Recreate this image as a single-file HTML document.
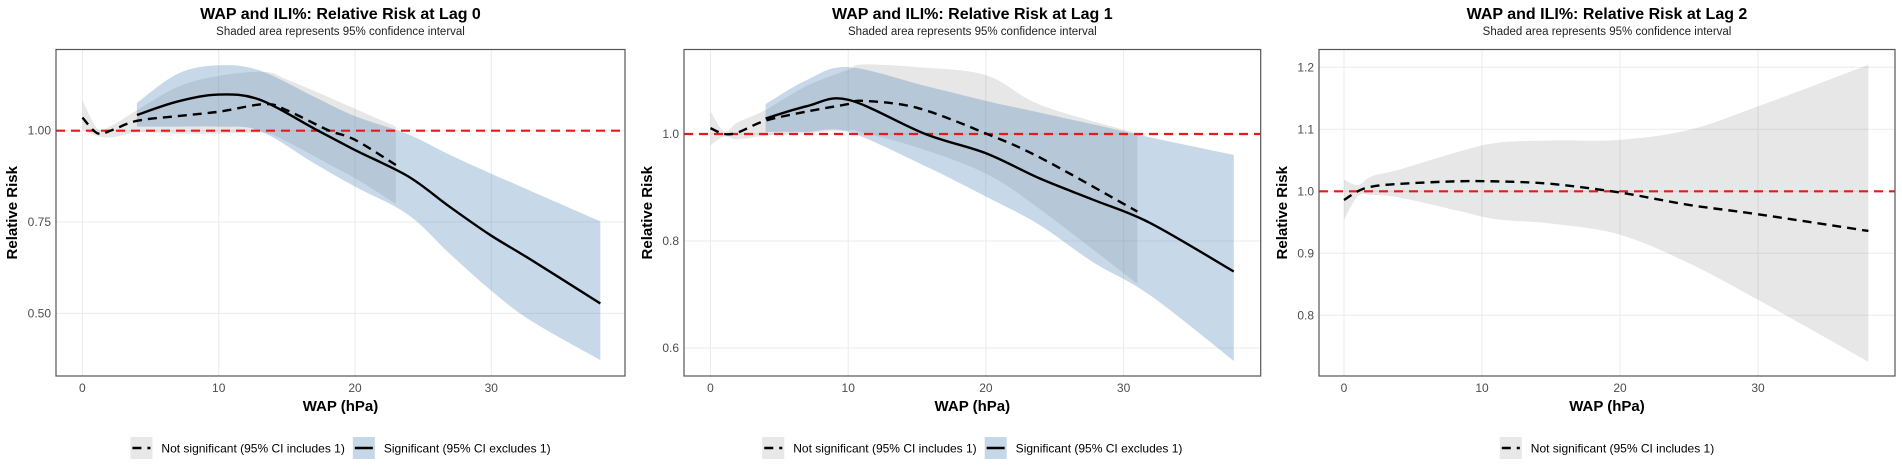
<!DOCTYPE html>
<html><head><meta charset="utf-8"><style>
body{margin:0;background:#fff;}
svg{display:block;font-family:"Liberation Sans",Arial,sans-serif;}
</style></head><body>
<svg id="chart" width="1902" height="468" viewBox="0 0 1902 468"></svg>
<script>
// ---- Data ----
const xTicks = [0, 10, 20, 30];
const p1YTicks = [0.50, 0.75, 1.00];
const p1YLabels = ["0.50", "0.75", "1.00"];
const p2YTicks = [0.6, 0.8, 1.0];
const p2YLabels = ["0.6", "0.8", "1.0"];
const p3YTicks = [0.8, 0.9, 1.0, 1.1, 1.2];
const p3YLabels = ["0.8", "0.9", "1.0", "1.1", "1.2"];

// Lag 0
const p1NsX = [0, 1.1, 2.2, 4, 7, 10, 13.4, 15, 18, 20, 23];
const p1NsY = [1.036, 0.993, 1.002, 1.027, 1.040, 1.052, 1.073, 1.056, 1.002, 0.975, 0.906];
const p1NsUp = [1.084, 1.006, 1.015, 1.056, 1.120, 1.150, 1.161, 1.140, 1.093, 1.060, 1.011];
const p1NsLo = [1.002, 0.985, 0.982, 0.995, 0.992, 0.992, 0.993, 0.970, 0.910, 0.870, 0.800];
const p1SX = [4, 7, 10, 13, 17, 20, 23.9, 26.9, 29.9, 32.9, 38];
const p1SY = [1.043, 1.080, 1.099, 1.085, 1.006, 0.947, 0.875, 0.793, 0.715, 0.647, 0.527];
const p1SUp = [1.076, 1.156, 1.179, 1.165, 1.093, 1.040, 0.990, 0.935, 0.884, 0.835, 0.752];
const p1SLo = [1.011, 1.011, 1.011, 1.000, 0.911, 0.847, 0.770, 0.665, 0.565, 0.480, 0.372];

// Lag 1
const p2NsX = [0, 1, 2, 4, 7, 10, 11, 15, 20, 24, 31];
const p2NsY = [1.011, 1.0, 1.003, 1.025, 1.042, 1.056, 1.062, 1.049, 1.001, 0.955, 0.855];
const p2NsUp = [1.042, 1.005, 1.022, 1.045, 1.090, 1.120, 1.130, 1.125, 1.110, 1.054, 1.001];
const p2NsLo = [0.979, 0.995, 0.990, 0.997, 1.002, 1.007, 1.003, 0.975, 0.926, 0.858, 0.720];
const p2SX = [4, 7, 10, 15.6, 20, 23.9, 27.8, 31.9, 38];
const p2SY = [1.029, 1.052, 1.064, 1.0, 0.964, 0.917, 0.877, 0.834, 0.743];
const p2SUp = [1.056, 1.101, 1.125, 1.090, 1.062, 1.040, 1.018, 0.994, 0.961];
const p2SLo = [1.004, 1.004, 1.004, 0.940, 0.883, 0.830, 0.760, 0.699, 0.576];

// Lag 2
const p3NsX = [0, 1, 2, 4, 8, 11, 15, 20, 25, 30, 38];
const p3NsY = [0.986, 1.0, 1.0075, 1.012, 1.016, 1.016, 1.012, 0.998, 0.978, 0.963, 0.936];
const p3NsUp = [1.019, 1.010, 1.024, 1.035, 1.062, 1.078, 1.082, 1.083, 1.099, 1.137, 1.204];
const p3NsLo = [0.954, 0.992, 0.994, 0.990, 0.970, 0.955, 0.948, 0.930, 0.884, 0.825, 0.725];

const svg = document.getElementById('chart');
const NS = 'http://www.w3.org/2000/svg';
function mk(tag, attrs, parent){
  const e = document.createElementNS(NS, tag);
  for (const k in attrs) e.setAttribute(k, attrs[k]);
  (parent || svg).appendChild(e);
  return e;
}
// smooth path through points (Catmull-Rom -> Bezier)
function smooth(pts, start){
  let d = start ? 'M' + pts[0][0] + ',' + pts[0][1] : 'L' + pts[0][0] + ',' + pts[0][1];
  for (let i = 0; i < pts.length - 1; i++){
    const p0 = pts[i - 1] || pts[i], p1 = pts[i], p2 = pts[i + 1], p3 = pts[i + 2] || p2;
    const c1x = p1[0] + (p2[0] - p0[0]) / 6, c1y = p1[1] + (p2[1] - p0[1]) / 6;
    const c2x = p2[0] - (p3[0] - p1[0]) / 6, c2y = p2[1] - (p3[1] - p1[1]) / 6;
    d += ' C' + c1x + ',' + c1y + ' ' + c2x + ',' + c2y + ' ' + p2[0] + ',' + p2[1];
  }
  return d;
}

const panels = [
  {title:"WAP and ILI%: Relative Risk at Lag 0", L:56, R:625, x0px:82.4, xPer:13.63, y1px:130.7, yPer:365.3,
   yt:p1YTicks, yl:p1YLabels, ytx:12,
   ns:{x:p1NsX,y:p1NsY,u:p1NsUp,l:p1NsLo}, s:{x:p1SX,y:p1SY,u:p1SUp,l:p1SLo}},
  {title:"WAP and ILI%: Relative Risk at Lag 1", L:684, R:1260.7, x0px:710.5, xPer:13.77, y1px:134, yPer:535,
   yt:p2YTicks, yl:p2YLabels, ytx:647,
   ns:{x:p2NsX,y:p2NsY,u:p2NsUp,l:p2NsLo}, s:{x:p2SX,y:p2SY,u:p2SUp,l:p2SLo}},
  {title:"WAP and ILI%: Relative Risk at Lag 2", L:1319, R:1895, x0px:1344, xPer:13.8, y1px:191.3, yPer:620,
   yt:p3YTicks, yl:p3YLabels, ytx:1282,
   ns:{x:p3NsX,y:p3NsY,u:p3NsUp,l:p3NsLo}, s:null}
];
const TOP = 49.5, BOT = 376;

panels.forEach((p, i) => {
  const g = mk('g', {});
  
  
  const X = v => p.x0px + v * p.xPer;
  const Y = v => p.y1px - (v - 1) * p.yPer;
  const cx = (p.L + p.R) / 2;

  const t = mk('text', {x:cx, y:19, 'text-anchor':'middle', 'font-size':16, 'font-weight':'bold', fill:'#000'}, g);
  t.textContent = p.title;
  
  
  const st = mk('text', {x:cx, y:35, 'text-anchor':'middle', 'font-size':11.5, fill:'#222'}, g);
  st.textContent = 'Shaded area represents 95% confidence interval';
  
  

  xTicks.forEach(v => {
    const l = mk('line', {x1:X(v), x2:X(v), y1:TOP, y2:BOT, stroke:'#ebebeb', 'stroke-width':1}, g);
    
    
    const tl = mk('text', {x:X(v), y:392, 'text-anchor':'middle', 'font-size':12, fill:'#4d4d4d'}, g);
    tl.textContent = v;
    
    
  });
  p.yt.forEach((v, k) => {
    const l = mk('line', {x1:p.L, x2:p.R, y1:Y(v), y2:Y(v), stroke:'#ebebeb', 'stroke-width':1}, g);
    
    
    const tl = mk('text', {x:p.L - 5, y:Y(v) + 4, 'text-anchor':'end', 'font-size':12, fill:'#4d4d4d'}, g);
    tl.textContent = p.yl[k];
    
    
  });

  const clip = mk('clipPath', {id:'clip' + i}, g);
  mk('rect', {x:p.L, y:TOP, width:p.R - p.L, height:BOT - TOP}, clip);
  const pg = mk('g', {'clip-path':'url(#clip' + i + ')'}, g);

  function band(d, fill, name){
    const up = d.x.map((v, k) => [X(v), Y(d.u[k])]);
    const lo = d.x.map((v, k) => [X(v), Y(d.l[k])]).reverse();
    const e = mk('path', {d:smooth(up, true) + ' ' + smooth(lo, false) + ' Z', fill:fill}, pg);
    
    
  }
  function line(d, dash, name){
    const pts = d.x.map((v, k) => [X(v), Y(d.y[k])]);
    const e = mk('path', {d:smooth(pts, true), fill:'none', stroke:'#000',
      'stroke-width':2.4, 'stroke-linejoin':'round', 'stroke-dasharray':dash ? '9,6' : 'none'}, pg);
    
    
  }
  band(p.ns, 'rgba(128,128,128,0.19)', 'ci-band-not-significant');
  if (p.s) band(p.s, 'rgba(70,130,180,0.30)', 'ci-band-significant');
  const ref = mk('line', {x1:p.L, x2:p.R, y1:Y(1), y2:Y(1), stroke:'#e41a1c', 'stroke-width':2.2, 'stroke-dasharray':'9,6'}, pg);
  
  
  line(p.ns, true, 'rr-line-not-significant');
  if (p.s) line(p.s, false, 'rr-line-significant');

  const box = mk('rect', {x:p.L, y:TOP, width:p.R - p.L, height:BOT - TOP, fill:'none', stroke:'#555', 'stroke-width':1.2}, g);
  
  

  const xt = mk('text', {x:cx, y:411, 'text-anchor':'middle', 'font-size':15, 'font-weight':'bold', fill:'#000'}, g);
  xt.textContent = 'WAP (hPa)';
  
  
  const ymid = (TOP + BOT) / 2;
  const yt = mk('text', {x:p.ytx + 5, y:ymid, 'text-anchor':'middle', 'font-size':15, 'font-weight':'bold', fill:'#000',
    transform:'rotate(-90 ' + (p.ytx + 5) + ' ' + ymid + ')'}, g);
  yt.textContent = 'Relative Risk';
  
  

  // legend
  const entries = [{lab:'Not significant (95% CI includes 1)', fill:'#e8e8e8', dash:true}];
  if (p.s) entries.push({lab:'Significant (95% CI excludes 1)', fill:'#c6d8e8', dash:false});
  const groups = entries.map(e => {
    const lg = mk('g', {}, g);
    
    
    mk('rect', {x:0, y:437, width:22, height:22, fill:e.fill}, lg);
    mk('line', {x1:2, x2:20, y1:448, y2:448, stroke:'#000', 'stroke-width':2.4, 'stroke-dasharray':e.dash ? '9,6' : 'none'}, lg);
    const tx = mk('text', {x:31, y:452.5, 'font-size':12, fill:'#000'}, lg);
    tx.textContent = e.lab;
    return {lg:lg, w:31 + tx.getComputedTextLength()};
  });
  const total = groups.reduce((a, q) => a + q.w, 0) + (groups.length - 1) * 8;
  let lx = cx - total / 2;
  groups.forEach(q => { q.lg.setAttribute('transform', 'translate(' + lx + ',0)'); lx += q.w + 8; });
});
</script>
</body></html>
